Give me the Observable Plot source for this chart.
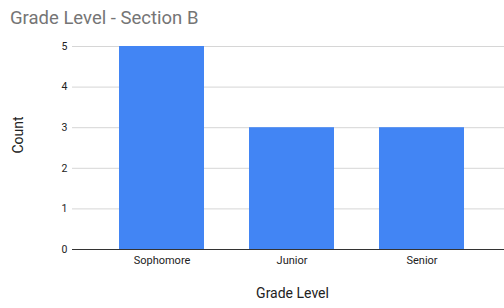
<!DOCTYPE html>
<html>
<head>
<meta charset="utf-8">
<script src="https://cdn.jsdelivr.net/npm/d3@7"></script>
<script src="https://cdn.jsdelivr.net/npm/@observablehq/plot@0.6"></script>
<style>
  html, body { margin: 0; padding: 0; background: #fff; }
  #wrap { position: relative; width: 504px; height: 308px; font-family: Roboto, Arial, sans-serif; }
  #title { position: absolute; left: 10px; top: 7px; font-size: 18.5px; color: #757575; white-space: nowrap; }
</style>
</head>
<body>
<div id="wrap"><div id="title">Grade Level - Section B</div></div>
<script>
const categories = ["Sophomore", "Junior", "Senior"];
const counts = [5, 3, 3];
const yTicks = [0, 1, 2, 3, 4, 5];

const data = categories.map((c, i) => ({grade: c, count: counts[i]}));

const chart = Plot.plot({
  width: 504,
  height: 308,
  marginTop: 46,
  marginBottom: 59,
  marginLeft: 72,
  marginRight: 0,
  style: {fontFamily: "Roboto, Arial, sans-serif", background: "transparent"},
  x: {domain: categories, range: [72, 510], paddingInner: 0.348, paddingOuter: 0.354, label: null},
  y: {domain: [0, 5], label: null},
  marks: [
    Plot.ruleY(yTicks.filter(d => d > 0), {stroke: "#d6d6d6", strokeWidth: 1}),
    Plot.barY(data, {x: "grade", y: "count", fill: "#4285f4"}),
    Plot.ruleY([0], {stroke: "#333", strokeWidth: 1}),
    Plot.axisY({ticks: yTicks, tickSize: 0, tickPadding: 5, fontSize: 10.5, fill: "#222", label: null, tickFormat: d3.format("d")}),
    Plot.axisX({tickSize: 0, tickPadding: 7, fontSize: 11, fill: "#222", label: null}),
    Plot.text(["Grade Level"], {frameAnchor: "bottom", dx: 4, dy: 48, fontSize: 14, fill: "#222"}),
    Plot.text(["Count"], {frameAnchor: "left", dx: -54, dy: 5.5, rotate: -90, fontSize: 14, fill: "#222"})
  ]
});
document.getElementById("wrap").appendChild(chart);
</script>
</body>
</html>
